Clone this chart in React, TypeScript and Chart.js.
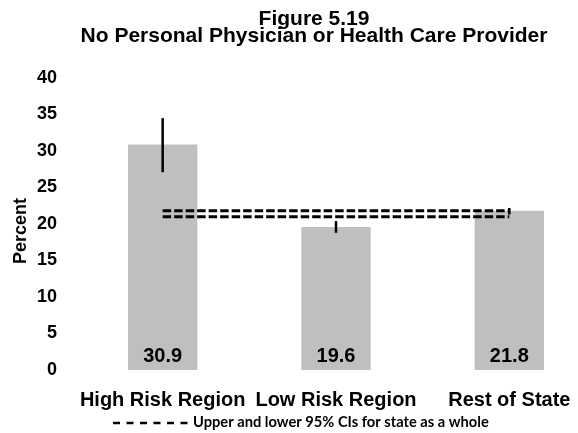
import React, { useEffect, useRef } from "react";
import { Chart, registerables } from "chart.js";

Chart.register(...registerables);

const titleLines = ["Figure 5.19", "No Personal Physician or Health Care Provider"];
const categories = ["High Risk Region", "Low Risk Region", "Rest of State"];
const percentValues = [30.9, 19.6, 21.8];
const ciLower = [27.1, 18.8, 21.3];
const ciUpper = [34.5, 20.4, 22.2];
const stateCiLower = 21.0;
const stateCiUpper = 21.8;
const yTicks = [0, 5, 10, 15, 20, 25, 30, 35, 40];
const yAxisTitle = "Percent";
const legendText = "Upper and lower 95% CIs for state as a whole";

const FONT = "'Liberation Sans', Arial, sans-serif";

const overlayPlugin = {
  id: "overlay",
  afterDatasetsDraw(chart: any) {
    const ctx = chart.ctx;
    const yScale = chart.scales.y;
    const meta = chart.getDatasetMeta(0);
    const area = chart.chartArea;
    ctx.save();
    // error bars
    ctx.strokeStyle = "#000";
    ctx.lineWidth = 2.5;
    meta.data.forEach((bar: any, i: number) => {
      ctx.beginPath();
      ctx.moveTo(bar.x, yScale.getPixelForValue(ciLower[i]));
      ctx.lineTo(bar.x, yScale.getPixelForValue(ciUpper[i]));
      ctx.stroke();
    });
    // value labels
    ctx.fillStyle = "#000";
    ctx.font = `bold 20px ${FONT}`;
    ctx.textAlign = "center";
    ctx.textBaseline = "alphabetic";
    const base = yScale.getPixelForValue(0);
    meta.data.forEach((bar: any, i: number) => {
      ctx.fillText(percentValues[i].toFixed(1), bar.x, base - 8);
    });
    // y axis title
    ctx.save();
    ctx.translate(area.left - 55, (area.top + area.bottom) / 2 + 7);
    ctx.rotate(-Math.PI / 2);
    ctx.font = `bold 18px ${FONT}`;
    ctx.textAlign = "center";
    ctx.textBaseline = "middle";
    ctx.fillText(yAxisTitle, 0, 0);
    ctx.restore();
    // legend
    ctx.setLineDash([7, 6.5]);
    ctx.lineWidth = 2.5;
    ctx.beginPath();
    ctx.moveTo(113, 423);
    ctx.lineTo(189, 423);
    ctx.stroke();
    ctx.setLineDash([]);
    ctx.font = `bold 13px Lato, 'Open Sans', sans-serif`;
    const w = ctx.measureText(legendText).width;
    const size = (13 * 296) / w;
    ctx.font = `bold ${size}px Lato, 'Open Sans', sans-serif`;
    ctx.textAlign = "left";
    ctx.fillText(legendText, 193, 427);
    ctx.restore();
  },
};

export default function App() {
  const ref = useRef<HTMLCanvasElement>(null);
  useEffect(() => {
    if (!ref.current) return;
    const chart = new Chart(ref.current, {
      type: "bar",
      data: {
        labels: categories,
        datasets: [
          {
            type: "bar",
            label: "Percent",
            data: percentValues,
            backgroundColor: "#bfbfbf",
            borderWidth: 0,
            barPercentage: 0.4,
            categoryPercentage: 1,
            order: 2,
          },
          {
            type: "line",
            label: "Upper 95% CI (state)",
            data: categories.map(() => stateCiUpper),
            borderColor: "#000",
            borderWidth: 3,
            borderDash: [8.5, 3],
            pointRadius: 0,
            fill: false,
            order: 1,
          },
          {
            type: "line",
            label: "Lower 95% CI (state)",
            data: categories.map(() => stateCiLower),
            borderColor: "#000",
            borderWidth: 3,
            borderDash: [8.5, 3],
            pointRadius: 0,
            fill: false,
            order: 1,
          },
        ],
      } as any,
      options: {
        responsive: false,
        devicePixelRatio: 1,
        animation: false,
        layout: { padding: { left: 32, right: 32, top: 0, bottom: 21 } },
        plugins: {
          legend: { display: false },
          tooltip: { enabled: false },
          title: {
            display: true,
            text: titleLines,
            color: "#000",
            font: { family: FONT, size: 21, weight: "bold", lineHeight: 0.81 },
            padding: { top: 11, bottom: 33 },
          },
        },
        scales: {
          x: {
            grid: { display: false, drawTicks: false },
            border: { display: false },
            ticks: {
              color: "#000",
              font: { family: FONT, size: 20, weight: "bold" },
              padding: 18,
              maxRotation: 0,
              autoSkip: false,
            },
            afterFit: (s: any) => {
              s.height = 42;
            },
          },
          y: {
            min: 0,
            max: 40,
            grid: { display: false, drawTicks: false },
            border: { display: false },
            afterBuildTicks: (s: any) => {
              s.ticks = yTicks.map((v) => ({ value: v }));
            },
            ticks: {
              color: "#000",
              font: { family: FONT, size: 18, weight: "bold" },
              padding: 19,
            },
            afterFit: (s: any) => {
              s.width = 44;
            },
          },
        },
      },
      plugins: [overlayPlugin],
    });
    return () => chart.destroy();
  }, []);
  return (
    <div style={{ position: "fixed", left: 0, top: 0, width: 628, height: 433, background: "#fff" }}>
      <canvas ref={ref} width={628} height={433} />
    </div>
  );
}
